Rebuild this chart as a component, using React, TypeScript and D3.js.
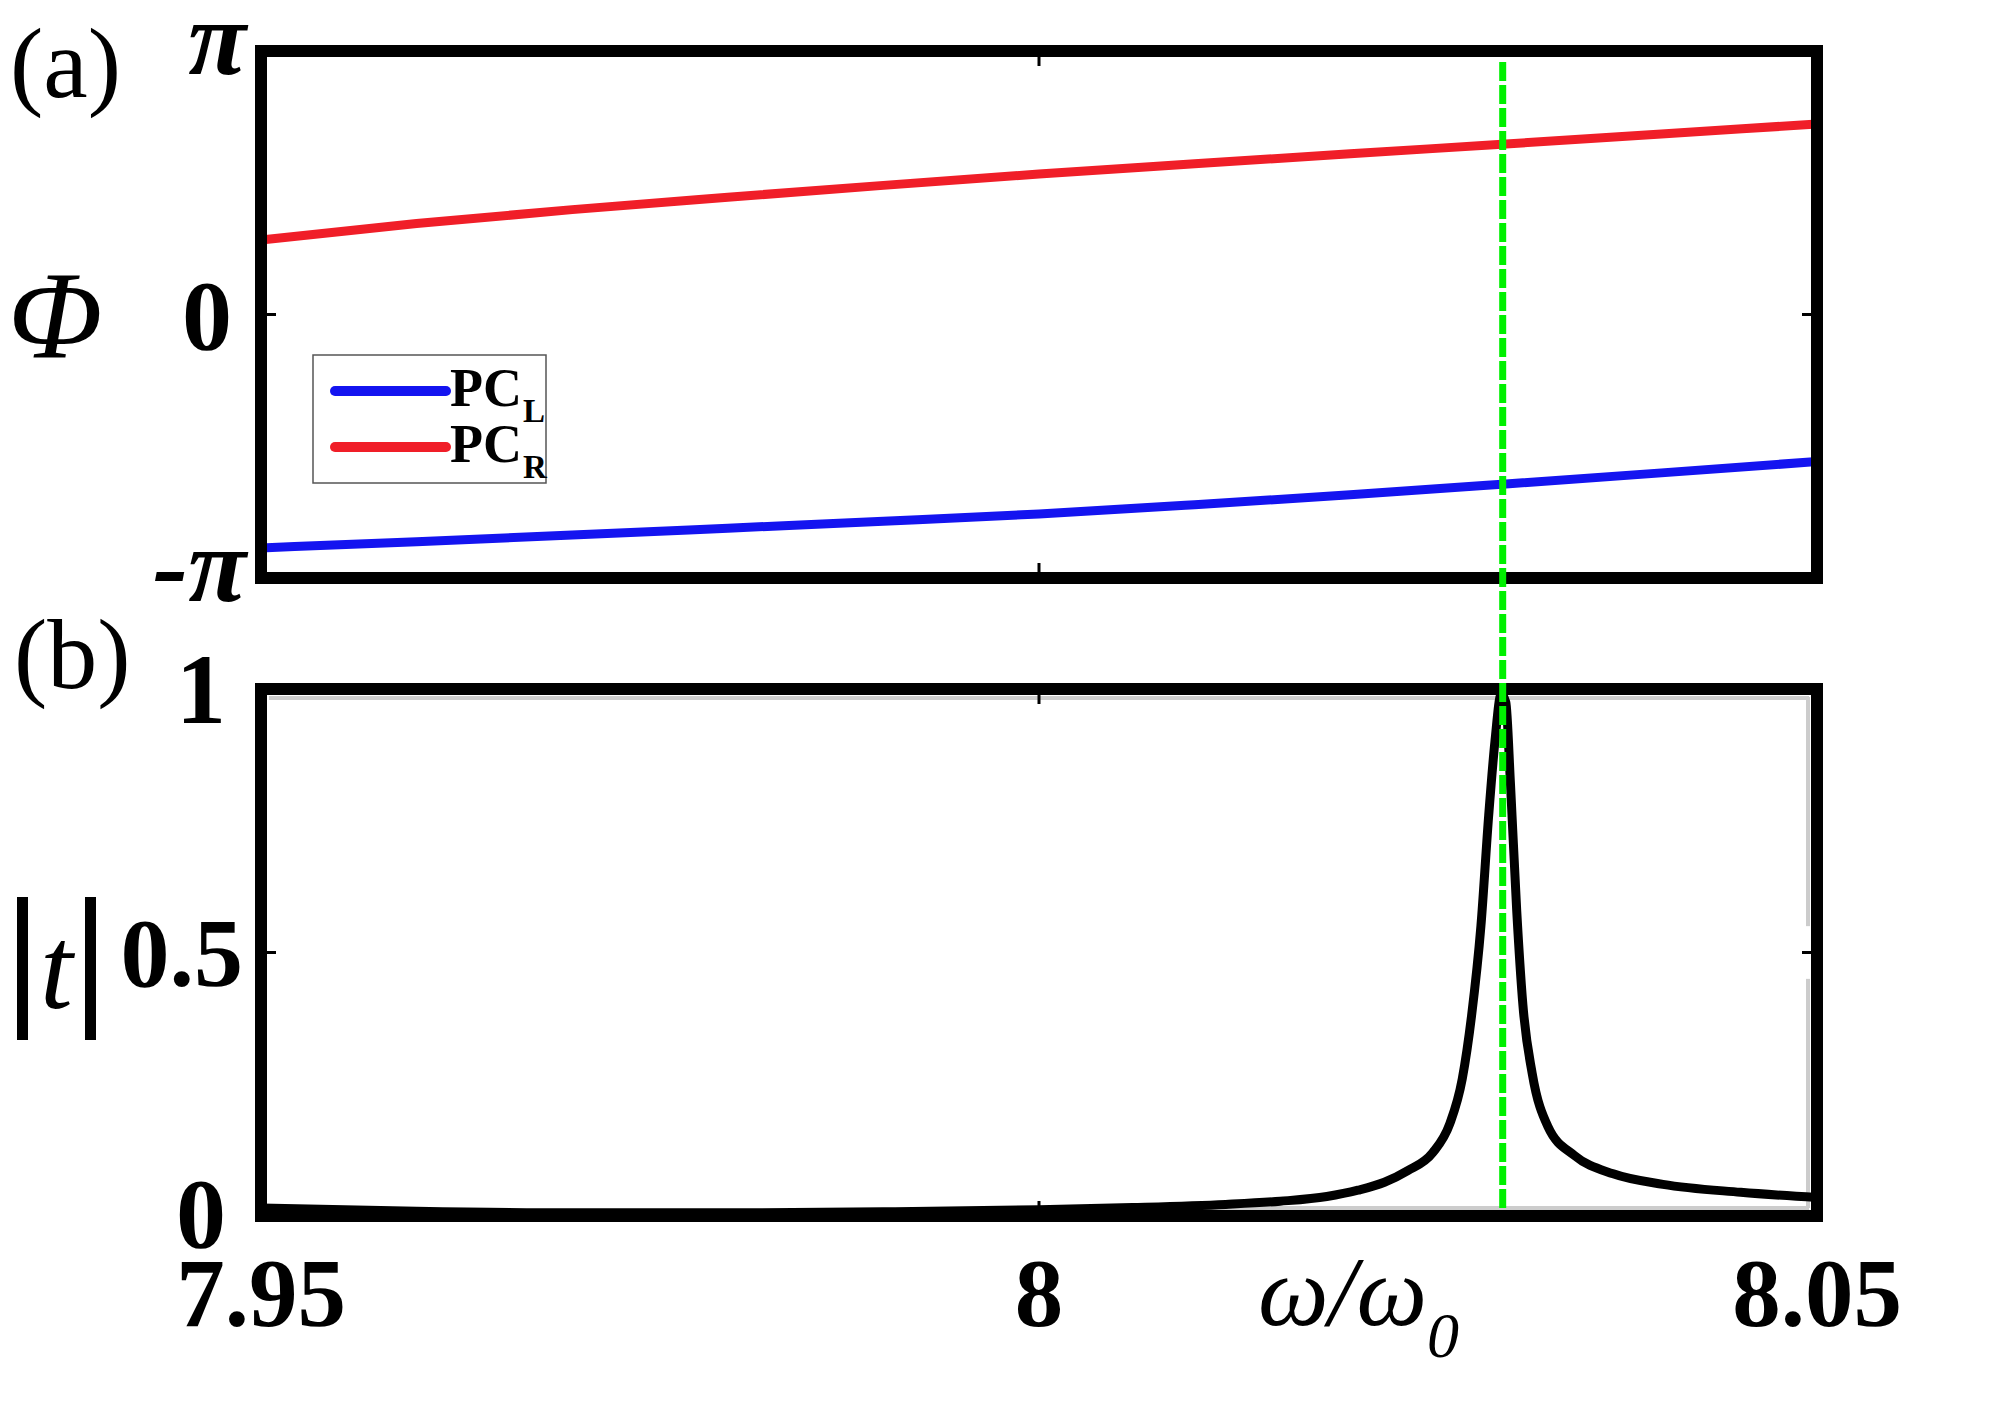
import React from "react";
import * as d3 from "d3";

// ---------- data ----------
const xTicks = [7.95, 8, 8.05];
const xTickLabels = ["7.95", "8", "8.05"];
const phiTicks = [-1, 0, 1]; // in units of pi
const phiTickLabels = ["-π", "0", "π"];
const tTicks = [0, 0.5, 1];
const tTickLabels = ["0", "0.5", "1"];

const phaseX = [7.95, 7.96, 7.97, 7.98, 7.99, 8.0, 8.01, 8.02, 8.03, 8.04, 8.05];
// phase in units of pi
const phasePCL = [-0.886, -0.862, -0.837, -0.811, -0.785, -0.757, -0.722, -0.684, -0.643, -0.601, -0.558];
const phasePCR = [0.283, 0.345, 0.398, 0.445, 0.49, 0.533, 0.572, 0.61, 0.647, 0.685, 0.723];

const peakX = [
  7.95, 7.96, 7.97, 7.98, 7.99, 8.0, 8.006, 8.012, 8.0155, 8.0185, 8.0205, 8.0222,
  8.0237, 8.0253, 8.0264, 8.0272, 8.0278, 8.0284, 8.0289, 8.0293, 8.0297, 8.03,
  8.0303, 8.0307, 8.0311, 8.0317, 8.0327, 8.0344, 8.0369, 8.0401, 8.0451, 8.05,
];
const peakT = [
  0.015, 0.009, 0.006, 0.006, 0.008, 0.012, 0.016, 0.022, 0.028, 0.037, 0.049, 0.064,
  0.086, 0.12, 0.175, 0.26, 0.38, 0.55, 0.76, 0.9, 0.99, 0.975,
  0.82, 0.58, 0.4, 0.27, 0.17, 0.115, 0.08, 0.06, 0.045, 0.035,
];

const resonanceX = 8.0298;

const seriesLegend = [
  { key: "L", label: "PC", sub: "L", color: "#1414f0" },
  { key: "R", label: "PC", sub: "R", color: "#f01e28" },
];

// ---------- layout ----------
const W = 2008;
const H = 1417;
const left = 261;
const right = 1817;
const aTop = 51;
const aBottom = 578;
const bTop = 689;
const bBottom = 1216;

const FONT = "'Liberation Serif', 'Times New Roman', Times, serif";

export default function App() {
  const x = d3.scaleLinear().domain([7.95, 8.05]).range([left, right]);
  const ya = d3.scaleLinear().domain([-1, 1]).range([aBottom, aTop]);
  const yb = d3.scaleLinear().domain([0, 1]).range([bBottom, bTop]);

  const lineA = d3
    .line<number>()
    .x((_, i) => x(phaseX[i]))
    .curve(d3.curveMonotoneX);
  const pathL = lineA.y((d) => ya(d))(phasePCL) || "";
  const pathR = lineA.y((d) => ya(d))(phasePCR) || "";

  const lineB = d3
    .line<number>()
    .x((_, i) => x(peakX[i]))
    .y((d) => yb(d))
    .curve(d3.curveMonotoneX);
  const pathT = lineB(peakT) || "";

  const frameW = 12;
  const tickLen = 15;

  const gx = x(resonanceX);

  return (
    <div style={{ position: "absolute", left: 0, top: 0 }}>
      <svg width={W} height={H} viewBox={`0 0 ${W} ${H}`} style={{ display: "block", background: "#fff" }}>
        <rect x={0} y={0} width={W} height={H} fill="#fff" />

        {/* ---------- Panel (a) ---------- */}
        <path d={pathR} fill="none" stroke="#f01e28" strokeWidth={9} />
        <path d={pathL} fill="none" stroke="#1414f0" strokeWidth={9} />

        {/* ticks panel a */}
        {xTicks
          .filter((t) => t > 7.95 && t < 8.05)
          .map((t) => (
            <g key={"at" + t}>
              <line x1={x(t)} x2={x(t)} y1={aTop} y2={aTop + tickLen} stroke="#000" strokeWidth={3} />
              <line x1={x(t)} x2={x(t)} y1={aBottom} y2={aBottom - tickLen} stroke="#000" strokeWidth={3} />
            </g>
          ))}
        {phiTicks
          .filter((t) => t > -1 && t < 1)
          .map((t) => (
            <g key={"ay" + t}>
              <line x1={left} x2={left + tickLen} y1={ya(t)} y2={ya(t)} stroke="#000" strokeWidth={3} />
              <line x1={right} x2={right - tickLen} y1={ya(t)} y2={ya(t)} stroke="#000" strokeWidth={3} />
            </g>
          ))}

        {/* legend */}
        <rect x={313} y={355} width={233} height={128} fill="#fff" stroke="#555" strokeWidth={1.5} />
        {seriesLegend.map((s, i) => {
          const ly = 391 + i * 56;
          return (
            <g key={s.key}>
              <line x1={335} x2={446} y1={ly} y2={ly} stroke={s.color} strokeWidth={10} strokeLinecap="round" />
              <text x={450} y={ly + 15} fontFamily={FONT} fontWeight="bold" fontSize={54} fill="#000">
                {s.label}
                <tspan fontSize={33} dx={1} dy={16}>
                  {s.sub}
                </tspan>
              </text>
            </g>
          );
        })}

        <rect x={left} y={aTop} width={right - left} height={aBottom - aTop} fill="none" stroke="#000" strokeWidth={frameW} />

        {/* y tick labels panel a */}
        {phiTicks.map((t, i) => (
          <text
            key={"al" + t}
            x={t === 0 ? 232 : 246}
            y={ya(t)}
            dy={t === 0 ? "0.34em" : "0.22em"}
            textAnchor="end"
            fontFamily={FONT}
            fontWeight="bold"
            fontStyle={t === 0 ? "normal" : "italic"}
            fontSize={t === 0 ? 100 : 106}
            fill="#000"
          >
            {phiTickLabels[i]}
          </text>
        ))}

        {/* ---------- Panel (b) ---------- */}
        {/* faint grey inner border artefact */}
        <line x1={left + 8} x2={right - 8} y1={bTop + 9} y2={bTop + 9} stroke="#cccccc" strokeWidth={4} />
        <line x1={right - 9} x2={right - 9} y1={bTop + 8} y2={yb(0.55)} stroke="#cccccc" strokeWidth={4} />
        <line x1={right - 9} x2={right - 9} y1={yb(0.45)} y2={bBottom - 8} stroke="#cccccc" strokeWidth={4} />
        <line x1={x(8.0)} x2={right - 8} y1={bBottom - 8} y2={bBottom - 8} stroke="#cccccc" strokeWidth={4} />

        {xTicks
          .filter((t) => t > 7.95 && t < 8.05)
          .map((t) => (
            <g key={"bt" + t}>
              <line x1={x(t)} x2={x(t)} y1={bTop} y2={bTop + tickLen} stroke="#000" strokeWidth={3} />
              <line x1={x(t)} x2={x(t)} y1={bBottom} y2={bBottom - tickLen} stroke="#000" strokeWidth={3} />
            </g>
          ))}
        {tTicks
          .filter((t) => t > 0 && t < 1)
          .map((t) => (
            <g key={"by" + t}>
              <line x1={left} x2={left + tickLen} y1={yb(t)} y2={yb(t)} stroke="#000" strokeWidth={3} />
              <line x1={right} x2={right - tickLen} y1={yb(t)} y2={yb(t)} stroke="#000" strokeWidth={3} />
            </g>
          ))}

        <rect x={left} y={bTop} width={right - left} height={bBottom - bTop} fill="none" stroke="#000" strokeWidth={frameW} />
        <path d={pathT} fill="none" stroke="#000" strokeWidth={9} strokeLinejoin="round" />

        {/* green dashed resonance line */}
        <line
          x1={gx}
          x2={gx}
          y1={aTop + 11}
          y2={bBottom - 6}
          stroke="#00f000"
          strokeWidth={7}
          strokeDasharray="19 4"
        />

        {/* y tick labels panel b */}
        {tTicks.map((t, i) => (
          <text
            key={"bl" + t}
            x={t === 0.5 ? 243 : 226}
            y={yb(t)}
            dy={t === 0 ? "0.31em" : "0.34em"}
            textAnchor="end"
            fontFamily={FONT}
            fontWeight="bold"
            fontSize={t === 0.5 ? 98 : 100}
            fill="#000"
          >
            {tTickLabels[i]}
          </text>
        ))}

        {/* x tick labels */}
        {xTicks.map((t, i) => (
          <text
            key={"xl" + t}
            x={x(t)}
            y={1326}
            textAnchor="middle"
            fontFamily={FONT}
            fontWeight="bold"
            fontSize={97}
            fill="#000"
          >
            {xTickLabels[i]}
          </text>
        ))}

        {/* x axis title */}
        <text x={1258} y={1325} fontFamily={FONT} fontStyle="italic" fontSize={100} fill="#000">
          ω/ω
          <tspan fontSize={64} dy={32}>
            0
          </tspan>
        </text>

        {/* y axis titles */}
        <text x={8} y={358} fontFamily={FONT} fontStyle="italic" fontSize={124} fill="#000">
          Φ
        </text>
        <rect x={17} y={897} width={11} height={143} fill="#000" />
        <rect x={85} y={897} width={11} height={143} fill="#000" />
        <text x={40} y={1008} fontFamily={FONT} fontStyle="italic" fontSize={118} fill="#000">
          t
        </text>

        {/* panel labels */}
        <text x={10} y={97} fontFamily={FONT} fontSize={100} fill="#000">
          (a)
        </text>
        <text x={14} y={688} fontFamily={FONT} fontSize={100} fill="#000">
          (b)
        </text>
      </svg>
    </div>
  );
}
